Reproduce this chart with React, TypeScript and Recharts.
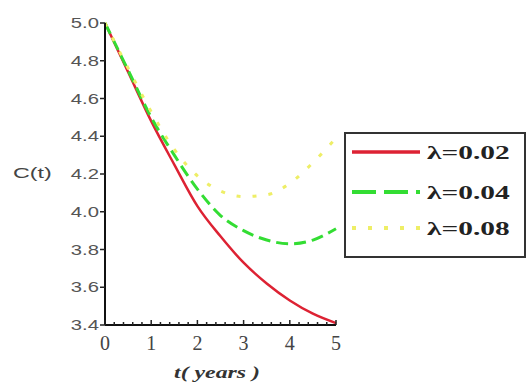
import React from 'react';
import { LineChart, Line, XAxis, YAxis } from 'recharts';

const tValues = [0, 0.5, 1, 1.5, 2, 2.5, 3, 3.5, 4, 4.5, 5];
const c002 = [5.0, 4.74, 4.48, 4.25, 4.03, 3.87, 3.73, 3.62, 3.53, 3.46, 3.41];
const c004 = [5.0, 4.75, 4.5, 4.3, 4.12, 3.98, 3.9, 3.85, 3.83, 3.85, 3.91];
const c008 = [5.0, 4.76, 4.53, 4.33, 4.19, 4.11, 4.08, 4.09, 4.15, 4.26, 4.39];

const xMajorTicks = [0, 1, 2, 3, 4, 5];
const xAllTicks = [0, 0.2, 0.4, 0.6, 0.8, 1, 1.2, 1.4, 1.6, 1.8, 2, 2.2, 2.4, 2.6, 2.8, 3, 3.2, 3.4, 3.6, 3.8, 4, 4.2, 4.4, 4.6, 4.8, 5];
const yTicks = [3.4, 3.6, 3.8, 4.0, 4.2, 4.4, 4.6, 4.8, 5.0];
const yTickLabels = ['3.4', '3.6', '3.8', '4.0', '4.2', '4.4', '4.6', '4.8', '5.0'];

const seriesNames = ['λ=0.02', 'λ=0.04', 'λ=0.08'];
const seriesKeys = ['l002', 'l004', 'l008'];
const seriesColors = ['#dd2233', '#33dd33', '#eeee66'];
const seriesDash = [undefined, '12 6', '4 12'];
const seriesWidth = [2.5, 3, 3];

const data = tValues.map((t, i) => ({ t, l002: c002[i], l004: c004[i], l008: c008[i] }));

const XTick = (props: any) => {
  const { x, y, payload } = props;
  const v = payload.value;
  const major = xMajorTicks.some((m) => Math.abs(m - v) < 1e-6);
  return (
    <g>
      <line x1={x} x2={x} y1={y} y2={y - (major ? 5 : 3)} stroke="#222" strokeWidth={1.5} />
      {major && (
        <text
          x={x}
          y={y + 25}
          textAnchor="middle"
          fontFamily="'Liberation Serif', serif"
          fontSize={20}
          fill="#444"
        >
          {String(v)}
        </text>
      )}
    </g>
  );
};

const YTick = (props: any) => {
  const { x, y, payload, index } = props;
  const label = yTickLabels[index] ?? String(payload.value);
  return (
    <g>
      <line x1={x} x2={x - 5} y1={y} y2={y} stroke="#222" strokeWidth={1.5} />
      <text
        transform={`translate(${x - 6},${y + 5}) scale(1.35,1)`}
        x={0}
        y={0}
        textAnchor="end"
        fontFamily="'Liberation Sans', sans-serif"
        fontSize={15}
        fill="#555"
      >
        {label}
      </text>
    </g>
  );
};

const LegendBox = () => (
  <svg width={182} height={126} style={{ display: 'block' }}>
    <rect x={1} y={1} width={180} height={124} fill="#fff" stroke="#333" strokeWidth={2} />
    {seriesNames.map((name, i) => {
      const cy = [20, 60, 96][i];
      return (
        <g key={name}>
          <line
            x1={8}
            x2={76}
            y1={cy}
            y2={cy}
            stroke={seriesColors[i]}
            strokeWidth={seriesWidth[i] + 1}
            strokeDasharray={i === 1 ? '24 8' : seriesDash[i]}
          />
          <text
            transform={`translate(83,${cy + 7}) scale(1.55,1)`}
            x={0}
            y={0}
            fontFamily="'Liberation Serif', serif"
            fontWeight="bold"
            fontSize={19}
            fill="#222"
          >
            {name}
          </text>
        </g>
      );
    })}
  </svg>
);

export default function App() {
  return (
    <div style={{ position: 'absolute', left: 0, top: 0, width: 527, height: 390, background: '#fff' }}>
      <LineChart width={527} height={390} data={data} margin={{ top: 23, right: 191, left: 45, bottom: 25 }}>
        <XAxis
          dataKey="t"
          type="number"
          domain={[0, 5]}
          ticks={xAllTicks}
          interval={0}
          tick={<XTick />}
          tickLine={false}
          tickSize={0}
          tickMargin={0}
          height={40}
          axisLine={{ stroke: '#111', strokeWidth: 2 }}
          label={{
            content: () => (
              <text
                transform="translate(217,378) scale(1.4,1)"
                x={0}
                y={0}
                textAnchor="middle"
                fontFamily="'Liberation Serif', serif"
                fontStyle="italic"
                fontWeight="bold"
                fontSize={17}
                fill="#333"
              >
                t( years )
              </text>
            ),
          }}
        />
        <YAxis
          type="number"
          domain={[3.4, 5.0]}
          ticks={yTicks}
          interval={0}
          tick={<YTick />}
          tickLine={false}
          tickSize={0}
          tickMargin={0}
          width={60}
          axisLine={{ stroke: '#111', strokeWidth: 2 }}
          label={{
            content: () => (
              <text
                transform="translate(13,178) scale(1.55,1)"
                x={0}
                y={0}
                textAnchor="start"
                fontFamily="'Liberation Sans', sans-serif"
                fontSize={15}
                fill="#444"
              >
                C(t)
              </text>
            ),
          }}
        />
        {seriesKeys.map((k, i) => (
          <Line
            key={k}
            dataKey={k}
            name={seriesNames[i]}
            type="monotone"
            stroke={seriesColors[i]}
            strokeWidth={seriesWidth[i]}
            strokeDasharray={seriesDash[i]}
            dot={false}
            activeDot={false}
            isAnimationActive={false}
          />
        ))}
      </LineChart>
      <div style={{ position: 'absolute', left: 344, top: 132 }}>
        <LegendBox />
      </div>
    </div>
  );
}
